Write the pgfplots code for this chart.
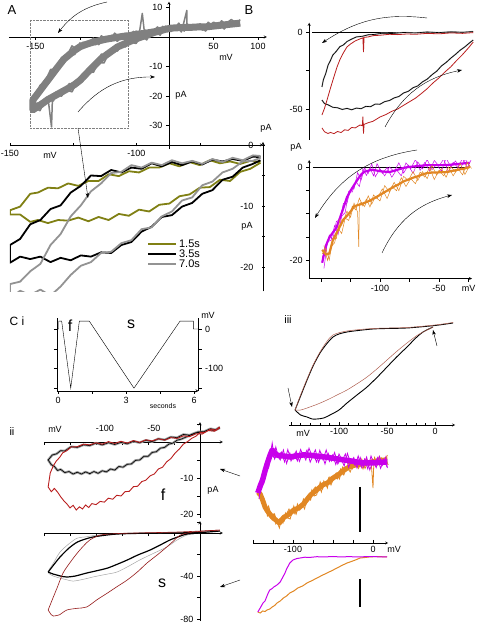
\documentclass[border=0pt]{standalone}
\usepackage{pgfplots}
\pgfplotsset{compat=1.18}
\usepackage{fontspec}
\setmainfont{Liberation Sans}
\usetikzlibrary{arrows.meta}
\definecolor{olivec}{RGB}{128,128,20}
\definecolor{mag}{RGB}{200,0,235}
\definecolor{orng}{RGB}{225,135,35}
\definecolor{dred}{RGB}{185,30,30}
\definecolor{brn}{RGB}{175,95,80}
\definecolor{bandgray}{RGB}{128,128,128}
\pgfplotsset{
  base/.style={anchor=south west, enlargelimits=false, clip=true,
    /pgf/number format/assume math mode=true,
    tick style={black, thin}, major tick length=3pt, minor tick length=2pt,
    axis line style={black, thin, -},
    every inner x axis line/.append style={-},
    every inner y axis line/.append style={-},
    tick label style={font=\fontsize{9}{10}\selectfont}},
}
\tikzset{arr/.style={-{Stealth[length=5pt,width=3.5pt]}, thin}}
\begin{document}
\begin{tikzpicture}
\useasboundingbox (0pt,0pt) rectangle (478pt,624pt);

% ---------------- A top ----------------
\begin{axis}[base, at={(8.8pt,474.9pt)}, x=0.89pt, y=2.95pt,
  xmin=-180, xmax=110, ymin=-38, ymax=12, axis lines=middle, tick align=outside,
  xtick={-150,-100,-50,0,50,100}, xticklabels={-150,,,0,50,100},
  ytick={-30,-20,-10,10}, yticklabels={-30,-20,-10,10}]
\addplot[bandgray, line width=7pt, line join=round] coordinates {
(80,4.7) (74,4.5) (68,4.3) (62,4.1) (56,3.9) (50,3.7) (44,3.5) (38,3.4) (32,3.4) (26,3.3) (20,3.3)
(14,3.2) (8,3.1) (2,3.0) (-4,2.6) (-10,2.2) (-16,1.8) (-22,1.5) (-28,1.2) (-34,1.0) (-40,0.7)
(-46,0.4) (-52,0.2) (-58,-0.1) (-64,-0.4) (-70,-0.7) (-76,-1.1) (-82,-1.5) (-88,-2.0) (-94,-2.6)
(-100,-3.3) (-106,-4.5) (-112,-6.0) (-118,-7.5) (-124,-9.8) (-130,-12.2) (-136,-14.6) (-142,-17)
(-148,-19.4) (-153,-21.4) (-153,-24.7) (-148,-23.7) (-142,-22.5) (-136,-21.2) (-130,-20.2)
(-124,-19.2) (-118,-18.2) (-112,-17.2) (-106,-16.1) (-100,-14.7) (-94,-12.8) (-88,-10.9) (-82,-9.1)
(-76,-7.3) (-70,-6.0) (-64,-4.7) (-58,-3.4) (-52,-2.6) (-46,-1.8) (-40,-1.0) (-34,-0.3) (-28,0.3)
(-22,1.0) (-16,1.6) (-10,2.1) (-4,2.6) (2,3.0)};
\addplot[bandgray, line width=1.5pt, line join=round] coordinates {
(80,5.9) (74,3.6) (68,4.8) (62,2.7) (56,4.9) (50,3.4) (44,5.0) (38,2.3) (32,3.6) (26,2.5)
(20,4.6) (20,9) (14,1.7) (8,3.8) (2,2.6) (-4,3.7) (-10,1.0) (-16,2.2) (-22,0.9) (-28,2.6) (-30,8) (-34,0.0)
(-40,1.9) (-46,-0.5) (-52,0.7) (-58,-1.5) (-64,0.6) (-70,-1.0) (-76,0.4) (-82,-2.6) (-88,-1.8)
(-94,-3.4) (-100,-2.0) (-106,-6.0) (-112,-5.3) (-118,-7.9) (-124,-8.7) (-130,-13.4) (-136,-14.2)
(-142,-17.6) (-148,-18.0) (-153,-22.4)
(-153,-25.4) (-148,-22.4) (-142,-23.7) (-136,-20.6) (-132,-30.5) (-131,-21.2) (-130,-21.7) (-124,-18.3)
(-118,-18.4) (-112,-15.8) (-106,-17.1) (-100,-14.4) (-94,-14.1) (-88,-9.8) (-82,-9.6) (-76,-5.8)
(-70,-6.9) (-64,-4.3) (-58,-4.8) (-52,-1.8) (-46,-1.9) (-40,0.2) (-34,-1.0) (-28,1.6) (-22,-0.2)
(-16,2.2) (-10,0.6) (-4,3.5) (2,1.8) (10,4.0) (20,2.3) (30,3.8) (40,2.4) (50,5.0) (60,3.7) (70,5.9) (80,3.9)};
\addplot[bandgray, line width=1.5pt, line join=round] coordinates {
(77,3.5) (71,5.4) (65,3.8) (59,5.5) (53,2.9) (47,4.0) (41,2.0) (35,4.5) (29,3.2) (23,4.1) (17,2.0)
(11,4.7) (5,2.4) (-1,3.4) (-7,1.5) (-13,3.4) (-19,1.4) (-25,2.1) (-31,-0.2) (-37,2.0) (-43,-0.5)
(-49,1.3) (-55,-0.3) (-61,1.3) (-67,-1.4) (-73,-0.4) (-79,-2.6) (-85,-0.4) (-91,-2.2) (-97,-1.8)
(-103,-4.6) (-109,-3.0) (-115,-6.7) (-121,-7.1) (-127,-10.9) (-133,-11.0) (-139,-15.0) (-145,-16.4)
(-150,-20.8)};
\addplot[bandgray, line width=1.5pt, line join=round] coordinates {
(-150,-24.0) (-145,-25.0) (-139,-21.3) (-133,-21.8) (-127,-18.7) (-121,-20.1) (-115,-18.0)
(-109,-18.6) (-103,-15.1) (-97,-15.0) (-91,-11.5) (-85,-12.0) (-79,-8.6) (-73,-8.8) (-67,-5.1)
(-61,-5.1) (-55,-2.0) (-49,-3.4) (-43,-1.7) (-37,-2.2) (-31,0.4) (-25,-1.0) (-19,2.2) (-13,1.0)
(-7,3.6) (-1,1.7)};
\draw[densely dotted, gray, thin] (axis cs:-156,5.8) rectangle (axis cs:-46,-30.8);
\end{axis}

% ---------------- A bottom ----------------
\begin{axis}[base, at={(10pt,332.6pt)}, x=2.53pt, y=6.1pt,
  xmin=-150, xmax=-50, ymin=-24, ymax=0.5, axis x line=middle, axis y line=right,
  tick align=center,
  xtick={-150,-125,-100,-75}, xticklabels={-150,,-100,},
  ytick={-20,-15,-10,-5,0}, yticklabels={},
  legend style={at={(0.53,0.375)}, anchor=north west, draw=none, fill=none,
    font=\fontsize{11}{12}\selectfont, row sep=-3pt},
  legend cell align=left,
  legend image code/.code={\draw[#1] (0pt,0pt) -- (28pt,0pt);}]
\addplot[olivec, line width=1.8pt, line join=round] coordinates {
(-51,-2.8) (-55,-2.6) (-59,-3.1) (-63,-2.7) (-67,-3.0) (-71,-2.5) (-75,-3.3) (-79,-2.8) (-83,-3.5)
(-87,-3.0) (-91,-3.7) (-95,-3.7) (-99,-4.5) (-103,-4.3) (-107,-5.1) (-111,-4.8) (-115,-5.9) (-119,-5.9)
(-123,-6.7) (-127,-6.3) (-131,-7.1) (-135,-7.0) (-139,-7.8) (-142,-8.0) (-146,-10.1) (-150,-10.7)
(-150,-11.4) (-146,-11.4) (-142,-12.6) (-139,-12.3) (-135,-12.8) (-131,-12.3) (-127,-12.4) (-123,-11.9)
(-119,-12.5) (-115,-11.8) (-111,-12.3) (-107,-11.3) (-103,-11.6) (-99,-10.6) (-95,-10.9) (-91,-9.8)
(-87,-9.6) (-83,-8.4) (-79,-8.1) (-75,-7.0) (-71,-6.9) (-67,-5.7) (-63,-5.9) (-59,-4.4) (-55,-3.9) (-51,-2.9)};
\addlegendentry{1.5s}
\addplot[black, line width=1.8pt, line join=round] coordinates {
(-51,-2.0) (-54,-1.9) (-58,-2.6) (-62,-2.3) (-66,-2.7) (-70,-2.4) (-74,-3.2) (-78,-2.7) (-82,-3.3)
(-86,-2.8) (-90,-3.5) (-94,-3.0) (-98,-3.9) (-102,-3.7) (-106,-4.5) (-110,-4.1) (-114,-5.1) (-118,-5.0)
(-122,-6.7) (-126,-7.8) (-130,-9.9) (-134,-10.5) (-138,-12.3) (-142,-13.0) (-146,-15.4) (-150,-16.4)
(-150,-19.3) (-146,-18.3) (-142,-18.7) (-138,-18.3) (-134,-19.2) (-130,-18.5) (-126,-18.9) (-122,-18.1)
(-118,-18.3) (-114,-17.6) (-110,-17.7) (-106,-16.4) (-102,-15.9) (-98,-14.2) (-94,-13.4) (-90,-11.8)
(-86,-11.5) (-82,-10.1) (-78,-9.5) (-74,-8.0) (-70,-7.4) (-66,-5.7) (-62,-5.2) (-58,-3.7) (-54,-3.1) (-51,-2.5)};
\addlegendentry{3.5s}
\addplot[gray!85, line width=1.8pt, line join=round] coordinates {
(-51,-1.8) (-54,-1.7) (-58,-2.5) (-62,-2.1) (-66,-2.8) (-70,-2.3) (-74,-3.1) (-78,-2.6) (-82,-3.0)
(-86,-2.5) (-90,-3.3) (-94,-2.9) (-98,-3.7) (-102,-3.3) (-106,-4.4) (-110,-4.6) (-114,-6.3) (-118,-7.6)
(-122,-9.9) (-126,-11.7) (-130,-14.6) (-134,-16.4) (-138,-19.5) (-142,-20.7) (-146,-22.4) (-150,-22.8)
(-150,-25.1) (-146,-23.9) (-142,-24.6) (-138,-23.7) (-134,-24.7) (-130,-23.2) (-126,-21.3) (-122,-19.8)
(-118,-19.2) (-114,-17.7) (-110,-17.5) (-106,-16.1) (-102,-15.6) (-98,-13.8) (-94,-13.5) (-90,-11.7)
(-86,-10.9) (-82,-9.1) (-78,-8.6) (-74,-6.6) (-70,-6.0) (-66,-4.5) (-62,-3.9) (-58,-2.7) (-54,-2.6) (-51,-2.1)};
\addlegendentry{7.0s}
\end{axis}

% ---------------- B top ----------------
\begin{axis}[base, at={(309.2pt,484.2pt)}, x=1.18pt, y=1.54pt,
  xmin=-160, xmax=-18, ymin=-70, ymax=6, axis y line=left, axis x line=none,
  tick align=outside, ytick={-50,-25,0}, yticklabels={-50,,0}]
\addplot[black, thin] coordinates {(-157.6,0) (-34,0)};
\addplot[gray!70, line width=1.3pt] coordinates {
(-21,0.3) (-30,-0.2) (-40,0.1) (-50,-0.4) (-60,0) (-70,-0.6) (-80,-0.3) (-90,-1.0) (-98,-0.8)
(-105,-1.6) (-110,-1.8) (-115,-2.8) (-120,-3.2) (-124,-4.6) (-128,-6.2) (-131,-8.4) (-134,-9.5)
(-137,-12.5) (-140,-15.0) (-142,-18.5) (-144,-21.5) (-146,-27) (-148,-31) (-149.2,-35.7)};
\addplot[black, line width=0.6pt] coordinates {
(-21,0.3) (-30,-0.2) (-40,0.1) (-50,-0.4) (-60,0) (-70,-0.6) (-80,-0.3) (-90,-1.0) (-98,-0.8)
(-105,-1.6) (-110,-1.8) (-115,-2.8) (-120,-3.2) (-124,-4.6) (-128,-6.2) (-131,-8.4) (-134,-9.5)
(-137,-12.5) (-140,-15.0) (-142,-18.5) (-144,-21.5) (-146,-27) (-148,-31) (-149.2,-35.7)};
\addplot[gray!70, line width=1.3pt] coordinates {
(-149.2,-44.2) (-147,-46.5) (-144,-47.3) (-140,-48.9) (-136,-49.2) (-132,-50.3) (-128,-49.6)
(-124,-50.5) (-120,-49.4) (-116,-49.8) (-112,-48.3) (-108,-48.5) (-104,-46.8) (-100,-46.9)
(-96,-45.2) (-92,-44.5) (-88,-42.8) (-84,-41.9) (-80,-39.6) (-76,-38.5) (-72,-36.2) (-68,-35.0)
(-64,-32.4) (-60,-30.6) (-56,-27.8) (-52,-25.5) (-48,-22.1) (-44,-19.8) (-40,-17.0) (-36,-14.5)
(-32,-11.8) (-28,-9.6) (-24,-7.0) (-21,-5.2)};
\addplot[black, line width=0.6pt] coordinates {
(-149.2,-44.2) (-147,-46.5) (-144,-47.3) (-140,-48.9) (-136,-49.2) (-132,-50.3) (-128,-49.6)
(-124,-50.5) (-120,-49.4) (-116,-49.8) (-112,-48.3) (-108,-48.5) (-104,-46.8) (-100,-46.9)
(-96,-45.2) (-92,-44.5) (-88,-42.8) (-84,-41.9) (-80,-39.6) (-76,-38.5) (-72,-36.2) (-68,-35.0)
(-64,-32.4) (-60,-30.6) (-56,-27.8) (-52,-25.5) (-48,-22.1) (-44,-19.8) (-40,-17.0) (-36,-14.5)
(-32,-11.8) (-28,-9.6) (-24,-7.0) (-21,-5.2)};
\addplot[dred, line width=0.8pt] coordinates {
(-21,-0.4) (-30,-0.9) (-40,-0.6) (-50,-1.2) (-60,-0.9) (-70,-1.5) (-77,-1.3) (-85,-1.7) (-92,-1.5)
(-100,-2.1) (-106,-2.4) (-110,-3.2) (-113.5,-3.5) (-114,-13) (-114.5,-3.8) (-117,-4.5) (-121,-5.8)
(-125,-7.8) (-128,-9.7) (-131,-13.5) (-134,-18) (-136.4,-22.7) (-139,-29) (-142,-36.5)
(-144.9,-44.2) (-147,-49.5) (-149.2,-53.9)};
\addplot[dred, line width=0.8pt] coordinates {
(-149.2,-62.3) (-147,-64.8) (-144,-65.9) (-142,-65.2) (-139,-66.0) (-136,-64.6) (-133,-65.3)
(-130,-63.5) (-127,-63.9) (-124,-62.0) (-121,-62.3) (-117,-60.4) (-115,-60.8) (-114.5,-55)
(-114,-66) (-113.5,-60) (-110,-58.9) (-106,-58.0) (-100,-55.2) (-95,-53.6) (-90,-51.5) (-85,-50.0)
(-80,-47.6) (-75,-45.3) (-70,-43.0) (-65,-40.0) (-60,-36.8) (-55.1,-33.1) (-50,-29.8) (-45,-26.0)
(-40,-22.6) (-34.7,-18.2) (-30,-14.6) (-25,-10.3) (-21,-6.5)};
\end{axis}

% ---------------- B bottom ----------------
\begin{axis}[base, at={(309.2pt,345.4pt)}, x=1.18pt, y=4.65pt,
  xmin=-160, xmax=-22, ymin=-24, ymax=1.5, axis x line=bottom, axis y line=left,
  tick align=outside,
  xtick={-150,-125,-100,-75,-50,-25}, xticklabels={,,-100,,-50,mV},
  ytick={-20,-15,-10,-5,0}, yticklabels={-20,,,,0}]
\addplot[black, thin] coordinates {(-156.8,0) (-23.7,0)};
\addplot[mag, line width=2.2pt] coordinates {
(-149,-20.6) (-146,-17) (-143,-15.2) (-140,-14.1) (-137,-13.1) (-134,-11) (-131,-8.8) (-128,-6.5)
(-125,-5.1) (-122,-3.9) (-119,-2.7) (-116,-1.6) (-113,-1.0) (-110,-0.8) (-107,-0.6) (-104,-0.7)
(-100,-0.9) (-96,-1.0) (-92,-1.1) (-88,-0.8) (-84,-0.5) (-80,-0.2) (-76,0) (-72,0.1) (-68,0.2)
(-64,0.3) (-60,0.4) (-52,0.4) (-44,0.4) (-40,0.5) (-36,0.6) (-32,0.7) (-28,0.8) (-24,0.9)};
\addplot[mag, line width=0.5pt] coordinates {
(-149,-19.4) (-146,-18.0) (-143,-14.6) (-140,-15.6) (-137,-11.7) (-134,-11.4) (-131,-7.8)
(-128,-7.8) (-125,-4.8) (-122,-4.7) (-119,-1.2) (-116,-2.8) (-113,-0.2) (-110,-1.4) (-107,0.7)
(-104,-2.1) (-100,-0.4) (-96,-1.9) (-92,0.0) (-88,-1.0) (-84,0.9) (-80,-1.3) (-76,0.4) (-72,-1.4)
(-68,1.1) (-64,-0.4) (-60,1.6) (-56,-0.6) (-52,0.6) (-48,-0.9) (-44,1.9) (-40,0.0) (-36,1.3)
(-32,-0.5) (-28,1.8) (-24,0.1)};
\addplot[mag, line width=0.5pt] coordinates {
(-147.5,-21.8) (-144.5,-16) (-141.5,-15.8) (-138.5,-12.6) (-135.5,-14.5) (-132.5,-10.6)
(-129.5,-9.8) (-126.5,-5.2) (-123.5,-5.4) (-120.5,-3.1) (-117.5,-4.2) (-114.5,-0.4) (-111.5,-1.8)
(-108.5,-0.2) (-105.5,-1.9) (-102.5,0.7) (-98,-1.4) (-94,-0.1) (-90,-2.2) (-86,-0.6) (-82,-1.9)
(-78,0.9) (-74,-0.4) (-70,1.6) (-66,-0.7) (-62,1.0) (-58,-0.8) (-54,1.4) (-50,0.2) (-46,1.7)
(-42,-1.1) (-38,1.0) (-34,-0.1) (-30,1.9) (-26,-0.2) (-22.5,1.7)};
\addplot[orng, line width=2.2pt] coordinates {
(-149,-17.8) (-146,-18.8) (-143,-18.6) (-140,-15.8) (-137,-14.3) (-134,-12.8) (-131,-11.3)
(-128,-10.5) (-125,-9.6) (-122,-8.5) (-119,-8.2) (-116,-8.0) (-113,-7.7) (-110,-7.4) (-107,-7.0)
(-104,-6.6) (-100,-6.0) (-96,-5.4) (-92,-4.8) (-88,-4.2) (-84,-3.7) (-80,-3.1) (-76,-2.7)
(-72,-2.3) (-68,-2.0) (-64,-1.6) (-60,-1.3) (-56,-1.2) (-52,-1.2) (-48,-1.1) (-44,-1.1) (-40,-0.9)
(-36,-0.7) (-32,-0.5) (-28,-0.3) (-24,0)};
\addplot[orng, line width=0.5pt] coordinates {
(-149,-18.7) (-146,-17.5) (-143,-20.0) (-140,-15.3) (-137,-15.4) (-134,-11.3) (-131,-11.6)
(-128,-9.5) (-125,-10.8) (-122,-7.8) (-119,-9.7) (-118,-17.2) (-117.5,-8) (-116,-7.6) (-113,-8.5)
(-110,-6.2) (-107,-8.0) (-104,-6.4) (-100,-7.3) (-96,-4.0) (-92,-5.4) (-88,-3.3) (-84,-5.1)
(-80,-2.0) (-76,-2.9) (-72,-1.0) (-68,-2.9) (-64,-1.0) (-60,-2.5) (-56,0.3) (-52,-1.7) (-48,-0.3)
(-44,-2.2) (-40,0.1) (-36,-1.1) (-32,0.7) (-28,-1.6) (-24,0.3)};
\addplot[orng, line width=0.5pt] coordinates {
(-147.5,-16.9) (-144.5,-20.1) (-141.5,-17.2) (-138.5,-16.3) (-135.5,-13.2) (-132.5,-14.3)
(-129.5,-11) (-126.5,-11.5) (-123.5,-8.4) (-120.5,-9.2) (-117.5,-6.7) (-114.5,-8.4) (-111.5,-6.9)
(-108.5,-8.6) (-105.5,-6) (-102.5,-6.8) (-98,-4.7) (-94,-6.8) (-90,-4.2) (-86,-5.1) (-82,-2.3)
(-78,-4.2) (-74,-2.5) (-70,-3.6) (-66,-1.1) (-62,-2.2) (-58,-0.1) (-54,-2.7) (-50,-0.7) (-46,-1.9)
(-42,0) (-38,-1.9) (-34,-0.3) (-30,-1.7) (-26,1.0) (-22.5,-0.3)};
\end{axis}

% ---------------- C i ----------------
\begin{axis}[base, at={(56.9pt,233.1pt)}, x=22.67pt, y=0.394pt,
  xmin=-0.05, xmax=6.2, ymin=-157, ymax=28, axis x line=bottom, axis y line=box,
  yticklabel pos=right, tick align=outside,
  xtick={0,1.5,3,4.5,6}, xticklabels={0,,3,,6},
  ytick={-150,-100,-50,0}, yticklabels={,-100,,0}]
\addplot[black, thin] coordinates {(0,0) (0.03,0) (0.03,20) (0.16,20) (0.56,-150) (0.94,20)
(1.38,20) (3.35,-150) (5.38,20) (5.97,20) (5.97,0) (6.2,0)};
\end{axis}

% ---------------- C iii ----------------
\begin{axis}[base, at={(289.1pt,199pt)}, x=0.96pt, y=1pt,
  xmin=-152, xmax=21, ymin=-99, ymax=12, axis x line=bottom, axis y line=none,
  tick align=inside, xtick={-150,-100,-50,0}, xticklabels={,-100,-50,0}, minor x tick num=4]
\addplot[black, line width=0.9pt, smooth] coordinates {
(18.8,3) (0,0.5) (-29.2,-2) (-50,-2.5) (-64.6,-3) (-80,-4.5) (-91.7,-6) (-100,-8) (-106.3,-11)
(-113,-18) (-119.8,-27) (-127,-40) (-133.3,-54) (-140,-70) (-145.8,-84)};
\addplot[black, line width=0.9pt, smooth] coordinates {
(-145.8,-84) (-140,-89) (-133.3,-91) (-128,-93) (-122.9,-93) (-116,-92) (-109.4,-89) (-100,-84)
(-91.7,-77) (-80,-68) (-70.8,-61) (-60,-51) (-50,-41) (-40,-31) (-29.2,-21) (-20,-12) (-12.5,-6) (-2.1,-1)};
\addplot[brn, line width=0.5pt, smooth] coordinates {
(18.8,3.5) (0,1) (-29.2,-1.5) (-64.6,-2.5) (-91.7,-5) (-106.3,-9) (-113,-16) (-119.8,-26)
(-127,-39) (-133.3,-53) (-140,-69) (-145.8,-84)};
\addplot[brn, line width=0.5pt, smooth] coordinates {
(-145.8,-84) (-140,-84) (-133.3,-82) (-122,-78) (-112.5,-74) (-100,-68) (-91.7,-64) (-80,-57)
(-70.8,-51) (-60,-42.5) (-50,-34) (-40,-25.5) (-29.2,-17) (-18,-9) (-8.3,-4) (-2.1,-1)};
\end{axis}

% ---------------- C ii f ----------------
\begin{axis}[base, at={(44pt,106.4pt)}, x=1.04pt, y=3.6pt,
  xmin=-150, xmax=22, ymin=-21, ymax=5.5, axis lines=middle, tick align=outside,
  xtick={-150,-125,-100,-75,-50,-25}, xticklabels={},
  ytick={-20,-15,-10,-5,5}, yticklabels={-20,,-10,,}]
\addplot[gray!75, line width=2.4pt, line join=round] coordinates {
(19,3.9) (14,3.2) (8,3.4) (2,2.6) (-4,2.6) (-10,1.9) (-16,2.1) (-22,1.2) (-28,1.4) (-34,0.6)
(-40,0.9) (-46,0.1) (-52,0.5) (-58,-0.2) (-64,0.2) (-70,-0.5) (-76,-0.1) (-82,-0.7) (-88,-0.2)
(-94,-0.8) (-100,-0.3) (-106,-1.0) (-112,-0.8) (-118,-1.5) (-124,-1.3) (-130,-2.5) (-134,-2.4)
(-138,-3.3) (-142,-3.6) (-146,-5.0)
(-143,-6.3) (-140,-6.8) (-137,-7.9) (-134,-7.6) (-130,-8.5) (-126,-8.2) (-122,-8.9) (-118,-8.4)
(-114,-8.9) (-110,-8.3) (-106,-8.8) (-102,-8.2) (-98,-8.7) (-94,-8.0) (-90,-8.3) (-86,-7.5)
(-82,-7.8) (-78,-6.8) (-74,-7.0) (-70,-6.2) (-66,-6.1) (-62,-5.1) (-58,-5.0) (-54,-4.0) (-50,-4.0)
(-46,-2.9) (-42,-2.7) (-38,-1.7) (-34,-1.5) (-30,-0.6) (-26,-0.3) (-22,0.5) (-18,0.8) (-14,1.3)
(-10,1.8) (-6,2.2) (-2,2.8) (4,2.9) (10,3.7) (15,3.4) (19,4.1)};
\addplot[black, line width=0.6pt] coordinates {
(19,3.9) (14,3.2) (8,3.4) (2,2.6) (-4,2.6) (-10,1.9) (-16,2.1) (-22,1.2) (-28,1.4) (-34,0.6)
(-40,0.9) (-46,0.1) (-52,0.5) (-58,-0.2) (-64,0.2) (-70,-0.5) (-76,-0.1) (-82,-0.7) (-88,-0.2)
(-94,-0.8) (-100,-0.3) (-106,-1.0) (-112,-0.8) (-118,-1.5) (-124,-1.3) (-130,-2.5) (-134,-2.4)
(-138,-3.3) (-142,-3.6) (-146,-5.0)
(-143,-6.3) (-140,-6.8) (-137,-7.9) (-134,-7.6) (-130,-8.5) (-126,-8.2) (-122,-8.9) (-118,-8.4)
(-114,-8.9) (-110,-8.3) (-106,-8.8) (-102,-8.2) (-98,-8.7) (-94,-8.0) (-90,-8.3) (-86,-7.5)
(-82,-7.8) (-78,-6.8) (-74,-7.0) (-70,-6.2) (-66,-6.1) (-62,-5.1) (-58,-5.0) (-54,-4.0) (-50,-4.0)
(-46,-2.9) (-42,-2.7) (-38,-1.7) (-34,-1.5) (-30,-0.6) (-26,-0.3) (-22,0.5) (-18,0.8) (-14,1.3)
(-10,1.8) (-6,2.2) (-2,2.8) (4,2.9) (10,3.7) (15,3.4) (19,4.1)};
\addplot[dred, line width=0.9pt] coordinates {
(19,3.9) (14,3.0) (8,3.2) (2,2.2) (-4,2.3) (-10,1.5) (-16,1.7) (-22,1.0) (-28,1.2) (-34,0.5)
(-40,0.9) (-46,0.3) (-52,0.6) (-58,-0.1) (-64,0.4) (-70,-0.3) (-76,0.2) (-82,-0.4) (-88,0.1)
(-94,-0.6) (-100,-0.2) (-106,-0.8) (-112,-0.6) (-118,-1.3) (-124,-1.4) (-128,-2.4) (-132,-3.0)
(-135,-4.3) (-138,-5.2) (-141,-6.6) (-144,-8.6) (-146,-12.5)
(-143,-13.8) (-140,-12.9) (-137,-13.9) (-134,-15.2) (-131,-16.3) (-128,-17.2) (-125,-18.3)
(-122,-17.6) (-119,-18.9) (-116,-18.0) (-113,-18.6) (-110,-17.5) (-107,-18.2) (-104,-17.1)
(-100,-17.4) (-96,-16.5) (-92,-16.7) (-88,-15.6) (-84,-15.9) (-80,-14.8) (-76,-15.0) (-72,-13.8)
(-68,-13.7) (-64,-12.4) (-60,-12.3) (-56,-11.0) (-52,-10.6) (-48,-9.4) (-44,-8.9) (-40,-7.5)
(-36,-7.0) (-32,-5.5) (-28,-4.6) (-24,-3.1) (-20,-2.0) (-16,-0.6) (-12,0.1) (-8,1.0) (-4,1.6)
(0,2.6) (5,2.7) (10,3.6) (15,3.3) (19,4.2)};
\end{axis}

% ---------------- C ii s ----------------
\begin{axis}[base, at={(44pt,2.8pt)}, x=1.04pt, y=1.075pt,
  xmin=-150, xmax=22, ymin=-82, ymax=11, axis lines=middle, tick align=outside,
  xtick={-150,-125,-100,-75,-50,-25}, xticklabels={},
  ytick={-80,-60,-40,-20,10}, yticklabels={-80,,-40,,}]
\addplot[gray!70, line width=0.5pt, smooth] coordinates {
(19,1.9) (-20,0.5) (-60,-0.5) (-80,-1.0) (-99,-1.9) (-110,-3.6) (-118,-4.7) (-126,-10)
(-134.6,-17.7) (-141,-28) (-146,-36.3) (-141,-40) (-134.6,-41.9) (-128,-43.5) (-122,-44.7)
(-112,-43) (-103,-40.9) (-92,-38.7) (-80,-36.3) (-68,-30.5) (-58,-25.1) (-45,-19) (-32,-13)
(-22,-6.5) (-12.5,-1.9) (0,0)};
\addplot[black, line width=1.2pt, smooth] coordinates {
(19,1.9) (0,0.5) (-32,0) (-60,-0.3) (-80,-0.9) (-95,-2.5) (-103,-3.7) (-110,-5.5) (-118,-8.4)
(-126,-14) (-134.6,-22.3) (-141,-30) (-146,-36.3)};
\addplot[black, line width=1.2pt, smooth] coordinates {
(-146,-36.3) (-141,-38.2) (-137.5,-39.1) (-132,-40.5) (-128,-40.9) (-120,-40) (-109,-37.2)
(-99,-35) (-89,-32.6) (-80,-29.2) (-70,-25.1) (-60,-20.5) (-48,-15.8) (-38,-11) (-29,-6.5)
(-20,-3.2) (-12.5,-0.9) (0,0)};
\addplot[dred!80!black, line width=0.6pt, smooth] coordinates {
(19,2.8) (-20,1) (-64,0) (-80,-0.5) (-96,-1.9) (-106,-6.5) (-112,-12) (-118,-18.6) (-125,-27.5)
(-131.7,-37.2) (-137,-50) (-141,-59.5) (-146,-71.6)};
\addplot[dred!80!black, line width=0.6pt, smooth] coordinates {
(-146,-71.6) (-143,-76) (-141,-77.2) (-138,-76.8) (-135,-76) (-128,-71.6) (-118,-70) (-109,-68.8)
(-99,-62) (-89,-55.8) (-80,-50) (-70,-43.7) (-60,-36) (-51,-27.9) (-40,-19.5) (-32,-13) (-25,-7)
(-19,-1.9) (-7,0.9) (19,2.8)};
\end{axis}

% ---------------- inset f ----------------
\begin{axis}[base, at={(254.6pt,89pt)}, x=0.8pt, y=1pt,
  xmin=-148, xmax=20, ymin=-75, ymax=20, hide axis]
\addplot[orng, line width=5pt, line join=round] coordinates {
(-144,-32) (-141,-34) (-138,-40) (-135,-47) (-132,-51) (-129,-54) (-126,-57) (-123,-59) (-120,-61)
(-117,-63) (-114,-60) (-111,-57) (-108,-56) (-105,-54) (-102,-52) (-99,-50) (-96,-49) (-93,-48)
(-90,-46) (-87,-44) (-84,-41) (-81,-38) (-78,-35) (-75,-33) (-72,-31) (-69,-29) (-66,-27) (-63,-25)
(-60,-24) (-57,-23) (-54,-21) (-50,-18) (-46,-16) (-42,-14) (-38,-11) (-34,-9) (-30,-7) (-26,-6)
(-22,-5) (-18,-4.5) (-14,-4) (-10,-3.5) (-6,-3) (-2,-2) (2,-1.5) (6,-1) (10,-0.5) (14,0) (18,0)};
\addplot[orng, line width=0.8pt] coordinates {
(-144,-36) (-141,-29) (-138,-42) (-135,-43) (-132,-56) (-129,-53) (-126,-60) (-123,-54) (-120,-62)
(-117,-68) (-114,-57) (-111,-61) (-108,-54) (-105,-49) (-102,-55) (-99,-46) (-96,-54) (-93,-46)
(-90,-48) (-87,-39) (-84,-45) (-81,-37) (-78,-40) (-75,-30) (-72,-27) (-69,-32) (-66,-22) (-63,-29)
(-60,-22) (-57,-28) (-54,-17) (-50,-19) (-46,-13) (-42,-19) (-38,-7) (-34,-11) (-30,-2) (-26,-9)
(-22,-4) (-18,-8.5) (-14,1) (-10,-8.5) (-6,-1) (-2,-5) (0,-28) (1,-3) (2,2.5) (6,-5) (10,2.5) (14,-2) (18,5)};
\addplot[orng, line width=0.8pt] coordinates {
(-142.5,-28) (-139.5,-39) (-136.5,-38) (-133.5,-51) (-130.5,-46) (-127.5,-55) (-124.5,-54)
(-121.5,-64) (-118.5,-60) (-115.5,-58) (-112.5,-63) (-109.5,-53) (-106.5,-58) (-103.5,-59)
(-100.5,-49) (-97.5,-54) (-94.5,-44) (-91.5,-50) (-88.5,-44) (-85.5,-49) (-82.5,-37) (-79.5,-39)
(-76.5,-30) (-73.5,-36) (-70.5,-35) (-67.5,-26) (-64.5,-32) (-61.5,-21) (-58.5,-26) (-55.5,-18)
(-52.5,-25) (-48.5,-17) (-44.5,-19) (-40.5,-9) (-36.5,-15) (-32.5,-7) (-28.5,-12) (-24.5,-3)
(-20.5,-6) (-16.5,-0.5) (-12.5,-9) (-8.5,1.5) (-4.5,-5) (-0.5,1) (3.5,-5.5) (7.5,3) (11.5,-3.5)
(15.5,2) (19,-5)};
\addplot[mag, line width=5.5pt, line join=round] coordinates {
(-144,-33) (-141,-26) (-138,-20) (-135,-11) (-132,-3) (-129,4) (-126,10) (-123,7) (-120,5) (-116,4)
(-112,4) (-108,3.5) (-104,3) (-100,3.5) (-96,4) (-92,4.5) (-88,5) (-84,5) (-80,4.8) (-76,4.5)
(-72,4) (-68,3.7) (-64,3.3) (-60,3) (-56,2.6) (-52,2) (-48,1.5) (-44,1) (-40,0.5) (-36,0)
(-32,-0.3) (-28,-1) (-24,-1.5) (-20,-2) (-16,-2.5) (-12,-3) (-8,-3) (-4,-3) (0,-2.8) (4,-2.6)
(8,-2.4) (12,-2.2) (16,-2) (18,-2)};
\addplot[mag, line width=0.8pt] coordinates {
(-144,-27) (-141,-31) (-138,-17) (-135,-18) (-132,2) (-129,2) (-126,17) (-123,1) (-120,6) (-116,0)
(-112,10) (-108,-3.5) (-104,7) (-100,0.5) (-96,9) (-92,-1.5) (-88,7) (-84,0) (-80,11.8) (-76,3.5)
(-72,10) (-68,-2.3) (-64,6.3) (-60,-4) (-56,6.6) (-52,-1) (-48,7.5) (-44,-4) (-40,1.5) (-36,-6)
(-32,6.7) (-28,-3) (-24,2.5) (-20,-8) (-16,2.5) (-12,-7) (-8,3) (-4,-10) (0,-0.8) (4,-7.6) (8,3.6)
(12,-5.2) (16,3) (18,-8)};
\addplot[mag, line width=0.8pt] coordinates {
(-142.5,-39) (-139.5,-21) (-136.5,-23) (-133.5,-4) (-130.5,-8) (-127.5,6) (-124.5,3) (-121.5,13)
(-118.5,4) (-114.5,8) (-110.5,-2) (-106.5,10.5) (-102.5,-1) (-98.5,6.5) (-94.5,-1) (-90.5,10.5)
(-86.5,3) (-82.5,10) (-78.5,-2.2) (-74.5,5.5) (-70.5,-2) (-66.5,9.7) (-62.5,0.3) (-58.5,10)
(-54.5,-1.4) (-50.5,5) (-46.5,-4.5) (-42.5,6) (-38.5,-0.5) (-34.5,6) (-30.5,-7.3) (-26.5,1)
(-22.5,-5.5) (-18.5,4) (-14.5,-7.5) (-10.5,1) (-6.5,-9) (-2.5,4) (1.5,-4.8) (5.5,2.4) (9.5,-8.4)
(13.5,0.8) (17.5,-7)};
\addplot[black, line width=1.2pt] coordinates {(-16.25,-27) (-16.25,-72)};
\end{axis}

% ---------------- inset s ----------------
\begin{axis}[base, at={(253pt,7pt)}, x=0.8pt, y=1pt,
  xmin=-150, xmax=19, ymin=-60, ymax=14, axis x line=top, axis y line=none,
  tick align=outside, xtick={-150,-125,-100,-75,-50,-25,0}, xticklabels={}]
\addplot[orng, line width=1pt] coordinates {
(-144,-55) (-141,-56) (-138,-54) (-135,-54.5) (-132.5,-53) (-129,-52) (-126,-50) (-123,-48.5)
(-120,-46) (-116,-44) (-112,-41) (-108,-39) (-104,-36) (-99,-34) (-94,-31) (-88,-29) (-82.5,-26)
(-76,-23.5) (-70,-21) (-64,-18.5) (-57.5,-16) (-51,-13.5) (-45,-11) (-39,-8.5) (-32.5,-6) (-27,-4.5)
(-22,-3) (-16,-1) (-10,-0.5) (-5,0) (5,0.5) (17.5,0)};
\addplot[mag, line width=1pt] coordinates {
(-144,-55) (-141,-51) (-137.5,-46) (-135,-44) (-133,-40) (-131,-36) (-129,-33) (-126,-31.5)
(-124,-30) (-120,-28) (-116,-25) (-114,-22) (-112,-19) (-110,-16) (-108,-12) (-106,-9) (-104,-6)
(-102,-4.5) (-100,-3) (-95,-1.5) (-91,-1) (-85,-0.2) (-80,-0.5) (-70,0.3) (-62,0) (-50,0.5) (-40,0)
(-30,0.4) (-20,0) (-10,0.3) (0,0.5) (10,0) (17.5,0)};
\addplot[black, line width=1.2pt] coordinates {(-16.25,-22) (-16.25,-50)};
\end{axis}

% ---------------- text labels ----------------
\node[font=\fontsize{13}{14}\selectfont] at (12pt,614pt) {A};
\node[font=\fontsize{13}{14}\selectfont] at (249pt,614pt) {B};
\node[font=\fontsize{12}{14}\selectfont] at (17pt,303pt) {C i};
\node[font=\fontsize{11}{13}\selectfont] at (12pt,192pt) {ii};
\node[font=\fontsize{11}{13}\selectfont] at (288pt,304pt) {iii};
\node[font=\fontsize{16}{18}\selectfont] at (70pt,298pt) {f};
\node[font=\fontsize{16}{18}\selectfont] at (131pt,300pt) {s};
\node[font=\fontsize{16}{18}\selectfont] at (163pt,129pt) {f};
\node[font=\fontsize{16}{18}\selectfont] at (162pt,41pt) {s};
\begin{scope}[every node/.style={font=\fontsize{9}{10}\selectfont}]
\node at (226pt,567pt) {mV};
\node at (181pt,529pt) {pA};
\node at (50pt,469pt) {mV};
\node at (247pt,398pt) {pA};
\node[anchor=east] at (257pt,479pt) {0};
\node[anchor=east] at (257pt,418pt) {-10};
\node[anchor=east] at (257pt,357pt) {-20};
\node at (266pt,496pt) {pA};
\node at (296pt,477pt) {pA};
\node at (208pt,309pt) {mV};
\node[font=\fontsize{7}{8}\selectfont] at (163pt,218pt) {seconds};
\node at (303pt,191pt) {mV};
\node at (55pt,195pt) {mV};
\node at (105pt,196pt) {-100};
\node at (154pt,196pt) {-50};
\node at (213pt,134pt) {pA};
\node at (293pt,75pt) {-100};
\node at (373pt,75pt) {0};
\node at (394pt,75pt) {mV};
\end{scope}

% ---------------- arrows ----------------
\draw[arr] (107pt,622pt) to[bend right=20] (58pt,591pt);
\draw[arr] (78pt,512pt) to[bend left=25] (155pt,547pt);
\draw[arr] (78pt,496pt) -- (88pt,426pt);
\draw[arr] (427pt,606pt) to[bend right=20] (322pt,581pt);
\draw[arr] (385pt,497pt) to[bend left=25] (462pt,554pt);
\draw[arr] (417pt,474pt) to[bend right=25] (315pt,406pt);
\draw[arr] (382pt,371pt) to[bend left=25] (452pt,429pt);
\draw[arr] (288pt,236pt) -- (292pt,217pt);
\draw[arr] (437pt,278pt) -- (433pt,294pt);
\draw[arr] (240pt,148pt) -- (220pt,155pt);
\draw[arr] (240pt,44pt) -- (220pt,37pt);
\end{tikzpicture}
\end{document}
